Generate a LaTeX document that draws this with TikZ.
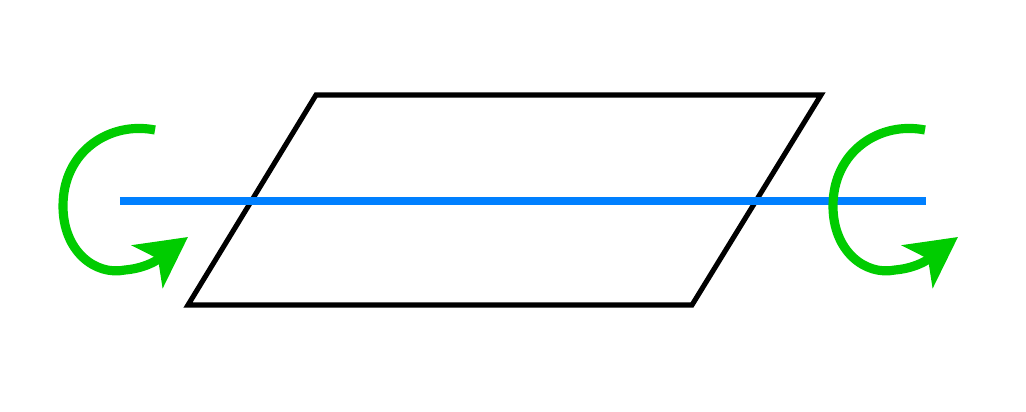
\documentclass[tikz,border=0pt]{standalone}
\usepackage{tikz}
\usetikzlibrary{arrows.meta}
\definecolor{AxisBlue}{HTML}{0080FF}
\definecolor{TurnGreen}{HTML}{00CC00}

\begin{document}
\begin{tikzpicture}[x=0.01cm, y=0.01cm]
\def\xR{770}
\useasboundingbox (0,0) rectangle (1026,411);

% plate
\draw[black, line width=1.45pt, line join=miter]
  (188,106) -- (316,316) -- (821,316) -- (692,106) -- cycle;

% axis
\draw[AxisBlue, line width=2.3pt] (120,210) -- (926,210);

% left turn
\draw[TurnGreen, line width=2.6pt,
  -{Stealth[length=0.5cm, width=0.52cm, inset=0.13cm]}]
  (155,281) .. controls (110,290) and (63,260) .. (63,205)
  .. controls (63,160) and (95,135) .. (125,141)
  to[out=5, in=216] (188,174);

% right turn
\draw[TurnGreen, line width=2.6pt,
  -{Stealth[length=0.5cm, width=0.52cm, inset=0.13cm]}]
  (\xR+155,281) .. controls (\xR+110,290) and (\xR+63,260) .. (\xR+63,205)
  .. controls (\xR+63,160) and (\xR+95,135) .. (\xR+125,141)
  to[out=5, in=216] (\xR+188,174);
\end{tikzpicture}
\end{document}
